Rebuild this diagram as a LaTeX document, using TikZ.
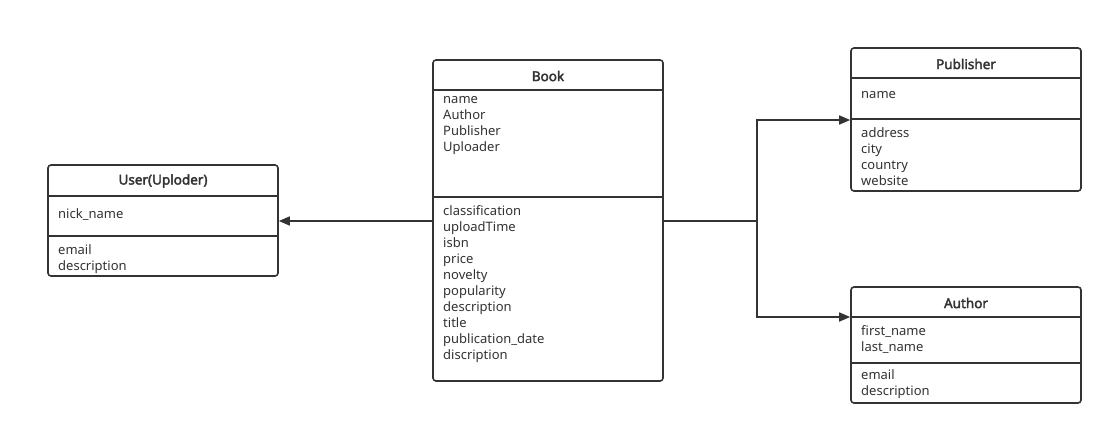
\documentclass[tikz,border=0pt]{standalone}
\usepackage{fontspec}
\setmainfont{Noto Sans}[AutoFakeBold=2.6]
\usetikzlibrary{arrows.meta}
\definecolor{ink}{HTML}{333333}
\begin{document}
\begin{tikzpicture}[x=1pt,y=-1pt,
  box/.style={draw=ink, line width=1.6pt, rounded corners=3pt, fill=white, inner sep=0pt},
  div/.style={draw=ink, line width=1.6pt},
  head/.style={font=\fontsize{13.5}{16}\selectfont\bfseries, text=ink, inner sep=0pt},
  attrs/.style={font=\fontsize{13}{16}\selectfont, text=ink, inner sep=0pt, anchor=north west, align=left},
  conn/.style={draw=ink, line width=1.6pt, -{Triangle[length=11pt,width=9pt]}},
  line/.style={draw=ink, line width=1.6pt}]
\useasboundingbox (0,0) rectangle (1113,436);
% boxes
\node[box, minimum width=230pt, minimum height=111pt] (user) at (163,220.5) {};
\node[box, minimum width=230pt, minimum height=321pt] (book) at (548,220.5) {};
\node[box, minimum width=230pt, minimum height=143pt] (pub) at (966,119.5) {};
\node[box, minimum width=230pt, minimum height=116pt] (auth) at (966,345) {};
% dividers
\draw[div] (user.west |- 0,196) -- (user.east |- 0,196);
\draw[div] (user.west |- 0,236) -- (user.east |- 0,236);
\draw[div] (book.west |- 0,90) -- (book.east |- 0,90);
\draw[div] (book.west |- 0,197) -- (book.east |- 0,197);
\draw[div] (pub.west |- 0,78) -- (pub.east |- 0,78);
\draw[div] (pub.west |- 0,119) -- (pub.east |- 0,119);
\draw[div] (auth.west |- 0,317) -- (auth.east |- 0,317);
\draw[div] (auth.west |- 0,363) -- (auth.east |- 0,363);
% headers
\node[head] (userh) at (163,181) {User(Uploder)};
\node[head] (bookh) at (548,76) {Book};
\node[head] (pubh) at (966,64) {Publisher};
\node[head] (authh) at (966,303) {Author};
% attributes
\node[attrs] (usera) at (58,208.5) {nick\_name};
\node[attrs] (userb) at (58,244.5) {email\\description};
\node[attrs] (booka) at (443,96.5) {name\\Author\\Publisher\\Uploader};
\node[attrs] (bookb) at (443,205.5) {classification\\uploadTime\\isbn\\price\\novelty\\popularity\\description\\title\\publication\_date\\discription};
\node[attrs] (puba) at (861,91.5) {name};
\node[attrs] (pubb) at (861,127.5) {address\\city\\country\\website};
\node[attrs] (autha) at (861,325.5) {first\_name\\last\_name};
\node[attrs] (authb) at (861,369.5) {email\\description};
% connectors
\coordinate (j) at (757,221);
\draw[conn] (book.west |- 0,221) -- (user.east |- 0,221);
\draw[line] (book.east |- 0,221) -- (j);
\draw[conn] (j) |- (pub.west |- 0,120);
\draw[conn] (j) |- (auth.west |- 0,317);
\end{tikzpicture}
\end{document}
